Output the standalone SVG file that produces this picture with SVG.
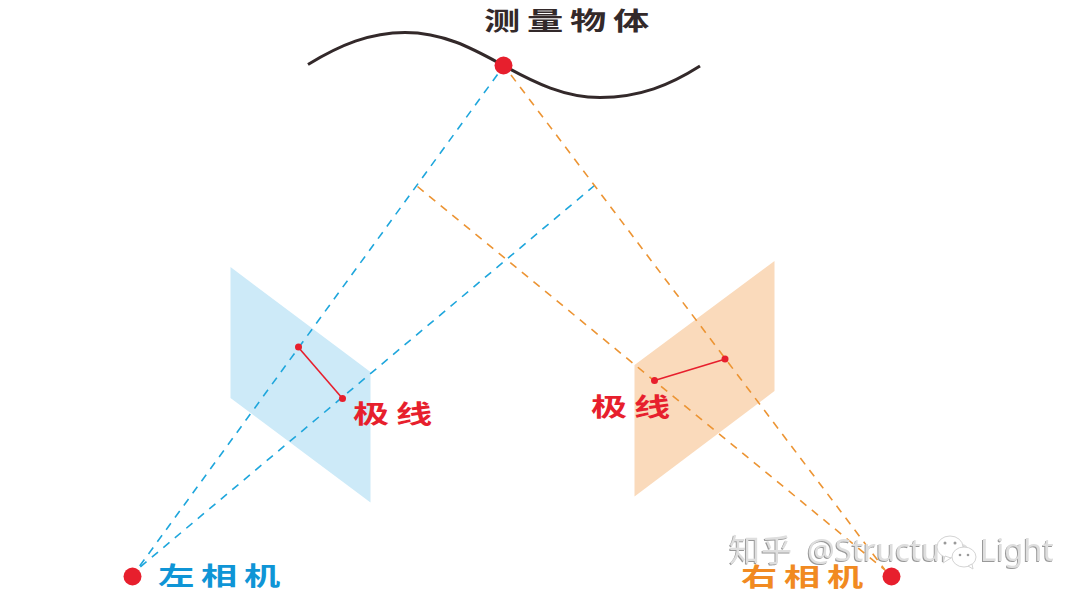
<svg xmlns="http://www.w3.org/2000/svg" width="1080" height="599" viewBox="0 0 1080 599">
<defs><style>
.cn{font-family:"Noto Sans CJK SC","Noto Sans",sans-serif;font-weight:700;font-size:25px;letter-spacing:4.65px}
.dash{fill:none;stroke-width:1.6;stroke-dasharray:8 7}
.blue{stroke:#1ea6dc}.orange{stroke:#ec9433}
.red{fill:#e71f2d}
.wm{font-family:"Noto Sans","Noto Sans CJK SC",sans-serif;font-size:31px;fill:#dedede}
.bub{fill:#fff;stroke:#d4d4d4;stroke-width:1}
.eye{fill:#9a9a9a}
</style>
<filter id="emboss" x="-5%" y="-20%" width="110%" height="140%"><feDropShadow dx="-1" dy="1" stdDeviation="0.4" flood-color="#999999"/></filter>
</defs>
<rect width="1080" height="599" fill="#fff"/>
<g id="left-plane"><polygon points="230.500,267 370.500,372 370.500,502.500 230.500,398" fill="#cdeaf8"/></g>
<g id="right-plane"><polygon points="774.500,261 774.500,391 634.500,496.500 634.500,365" fill="#fadabb"/></g>
<g id="object"><path d="M308,64.500 C340,45 370,32.500 405,32.500 C445,32.500 475,50 503.500,65.500 C535,83 565,97.500 600,97.500 C640,97.500 670,85 700,66" fill="none" stroke="#33292a" stroke-width="3"/></g>
<g id="connectors">
<path class="dash blue" d="M497.500,74.500 L139,567"/>
<path class="dash blue" d="M594.500,185.500 L139,568"/>
<path class="dash orange" d="M511,75 L885,570"/>
<path class="dash orange" d="M417.500,186.500 L885,570"/>
<path d="M298.500,347.500 L342.500,398.500" fill="none" stroke="#e71f2d" stroke-width="1.6"/>
<path d="M654.500,380.500 L725.500,359" fill="none" stroke="#e71f2d" stroke-width="1.6"/>
</g>
<g id="watermark">
<text class="wm" x="729" y="561" filter="url(#emboss)"><tspan letter-spacing="1">知乎</tspan> <tspan x="807">@Structure</tspan> <tspan x="980">Light</tspan></text>
<ellipse class="bub" cx="950" cy="547" rx="13" ry="11"/>
<path class="bub" d="M945,556 L943,563 L951,558 Z"/>
<ellipse class="bub" cx="964" cy="557" rx="12" ry="10"/>
<path class="bub" d="M968,566 L973,569 L972,564 Z"/>
<circle class="eye" cx="945" cy="543" r="1.5"/><circle class="eye" cx="955" cy="543" r="1.5"/>
<circle class="eye" cx="960" cy="555" r="1.3"/><circle class="eye" cx="968" cy="555" r="1.3"/>
</g>
<g id="measure-point"><circle class="red" cx="503.500" cy="65.500" r="9"/></g>
<g id="left-camera"><circle class="red" cx="132.500" cy="576.500" r="9"/></g>
<g id="right-camera"><circle class="red" cx="891.500" cy="576.500" r="9"/></g>
<g id="left-epipolar"><circle class="red" cx="298.500" cy="347" r="3.500"/><circle class="red" cx="342.500" cy="398.500" r="3.500"/></g>
<g id="right-epipolar"><circle class="red" cx="654.500" cy="380.500" r="3.500"/><circle class="red" cx="725" cy="359" r="3.500"/></g>
<g id="labels">
<text class="cn" transform="translate(484,30) scale(1.45,1)" fill="#33292a">测量物体</text>
<text class="cn" transform="translate(158,585) scale(1.45,1)" fill="#0f95d6">左相机</text>
<text class="cn" transform="translate(741,586) scale(1.45,1)" fill="#f18a21">右相机</text>
<text class="cn" transform="translate(353,423) scale(1.45,1)" fill="#e71f2d">极线</text>
<text class="cn" transform="translate(591,416) scale(1.45,1)" fill="#e71f2d">极线</text>
</g>
</svg>
